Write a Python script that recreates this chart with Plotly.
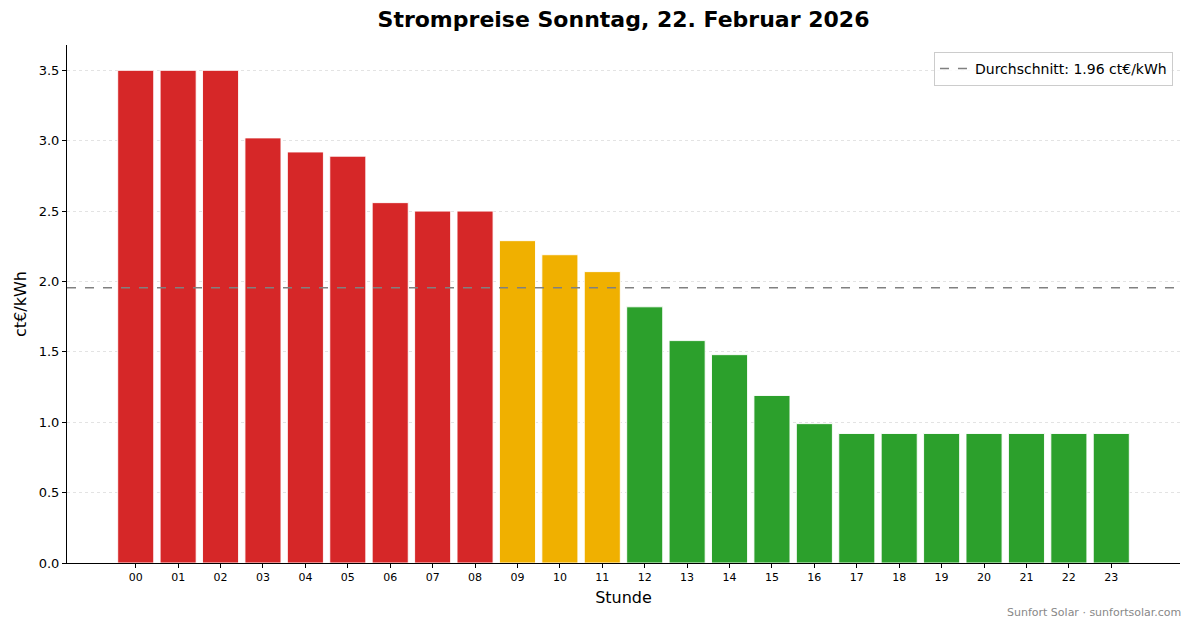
import numpy as np
import plotly.graph_objects as go

# Hourly prices (ct/kWh)
hours = [f"{h:02d}" for h in range(24)]
prices = [3.50, 3.50, 3.50, 3.02, 2.92, 2.89, 2.56, 2.50, 2.50,
          2.29, 2.19, 2.07,
          1.82, 1.58, 1.48, 1.19, 0.99,
          0.92, 0.92, 0.92, 0.92, 0.92, 0.92, 0.92]

avg = float(np.mean(prices))

RED, ORANGE, GREEN = "#d62728", "#f0b000", "#2ca02c"
colors = []
for p in prices:
    if p > avg * 1.25:
        colors.append(RED)
    elif p > avg:
        colors.append(ORANGE)
    else:
        colors.append(GREEN)

font = "DejaVu Sans"

fig = go.Figure()
fig.add_trace(go.Bar(
    x=list(range(24)), y=prices,
    marker=dict(color=colors, line=dict(color="rgba(255,255,255,0.9)", width=1)),
    width=0.85, showlegend=False,
))
# average line on a hidden overlay axis so it spans the full width
fig.add_trace(go.Scatter(
    x=[0, 1], y=[avg, avg], xaxis="x2", mode="lines",
    line=dict(color="#808080", width=1.5, dash="dash"),
    name=f"Durchschnitt: {avg:.2f} ct€/kWh",
))

# page has an 8px body margin, so the figure is 16px smaller than the window
fig.update_layout(
    width=1185, height=620,
    paper_bgcolor="white", plot_bgcolor="white",
    font=dict(family=font, color="black", size=13),
    margin=dict(l=57, r=13, t=37, b=65),
    title=dict(text="<b>Strompreise Sonntag, 22. Februar 2026</b>",
               xref="paper", x=0.5, xanchor="center", y=0.982, yanchor="middle",
               font=dict(size=22, family=font)),
    xaxis=dict(
        tickvals=list(range(24)), ticktext=hours,
        range=[-1.62, 24.62], showgrid=False, zeroline=False,
        showline=True, linecolor="black", linewidth=1,
        ticks="outside", ticklen=4, tickcolor="black",
        tickfont=dict(size=11),
        title=dict(text="Stunde", font=dict(size=16), standoff=8),
    ),
    xaxis2=dict(overlaying="x", range=[0, 1], visible=False),
    yaxis=dict(
        range=[0, 3.68], dtick=0.5, tickformat=".1f",
        showgrid=True, gridcolor="#e3e3e3", griddash="dot", gridwidth=1,
        zeroline=False, showline=True, linecolor="black", linewidth=1,
        ticks="outside", ticklen=4, tickcolor="black",
        tickfont=dict(size=13),
        title=dict(text="ct€/kWh", font=dict(size=16), standoff=8),
    ),
    legend=dict(x=0.9937, y=0.9865, xanchor="right", yanchor="top",
                bgcolor="rgba(255,255,255,0.8)", bordercolor="#cccccc",
                borderwidth=1, font=dict(size=14)),
    annotations=[dict(
        text="Sunfort Solar · sunfortsolar.com", xref="paper", yref="paper",
        x=1.0027, y=-0.0965, xanchor="right", yanchor="middle", showarrow=False,
        font=dict(size=11, color="#888888"),
    )],
)

fig.write_html("out.html")
